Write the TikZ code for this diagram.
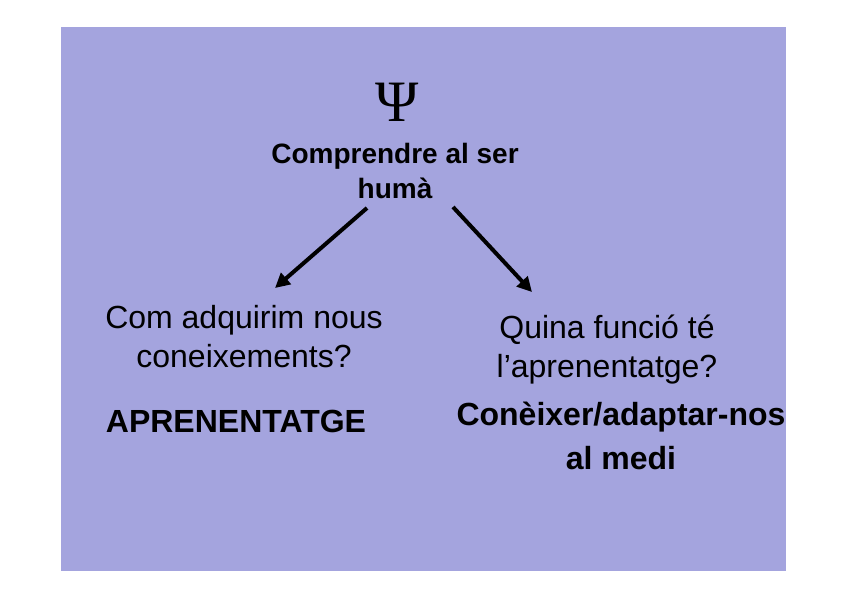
\documentclass[tikz,border=0pt]{standalone}
\usepackage{fontspec}
\setmainfont{Liberation Sans}
\newfontfamily\psifont{Liberation Serif}
\usepackage{xcolor}
\usepackage{tikz}
\usetikzlibrary{arrows.meta, positioning}
\definecolor{slidebg}{RGB}{164, 164, 222}
\tikzset{
  titletext/.style={font=\fontsize{21}{26.25}\selectfont\bfseries, align=center, anchor=base},
  asktext/.style={font=\fontsize{24}{29.25}\selectfont, align=center, anchor=base},
  answertext/.style={font=\fontsize{24}{33}\selectfont\bfseries, align=center, anchor=base},
  arrow/.style={-{Triangle[length=11pt, width=11pt]}, line width=3pt, color=black},
}

\begin{document}
\begin{tikzpicture}[x=0.75pt, y=-0.75pt, inner sep=0pt]
  \useasboundingbox (0,0) rectangle (848,599);
  \fill[slidebg] (61,27) rectangle (786,571);

  % base anchor of a two-line node sits on its last line
  \node[font=\psifont\fontsize{44}{44}\selectfont, anchor=base] (psi) at (397,122) {Ψ};
  \node[titletext] (human) at (395,198) {Comprendre al ser\\humà};

  \node[asktext] (howlearn) at (244,367) {Com adquirim nous\\coneixements?};
  \node[answertext] (learning) at (236,432) {APRENENTATGE};

  \node[asktext] (whatfor) at (607,377) {Quina funció té\\l’aprenentatge?};
  \node[answertext] (adapt) at (621,469) {Conèixer/adaptar-nos\\al medi};

  \coordinate (lstart) at (367,208);
  \coordinate (lend) at (275,288);
  \coordinate (rstart) at (453,207);
  \coordinate (rend) at (532,292);
  \draw[arrow] (lstart) -- (lend);
  \draw[arrow] (rstart) -- (rend);
\end{tikzpicture}
\end{document}
